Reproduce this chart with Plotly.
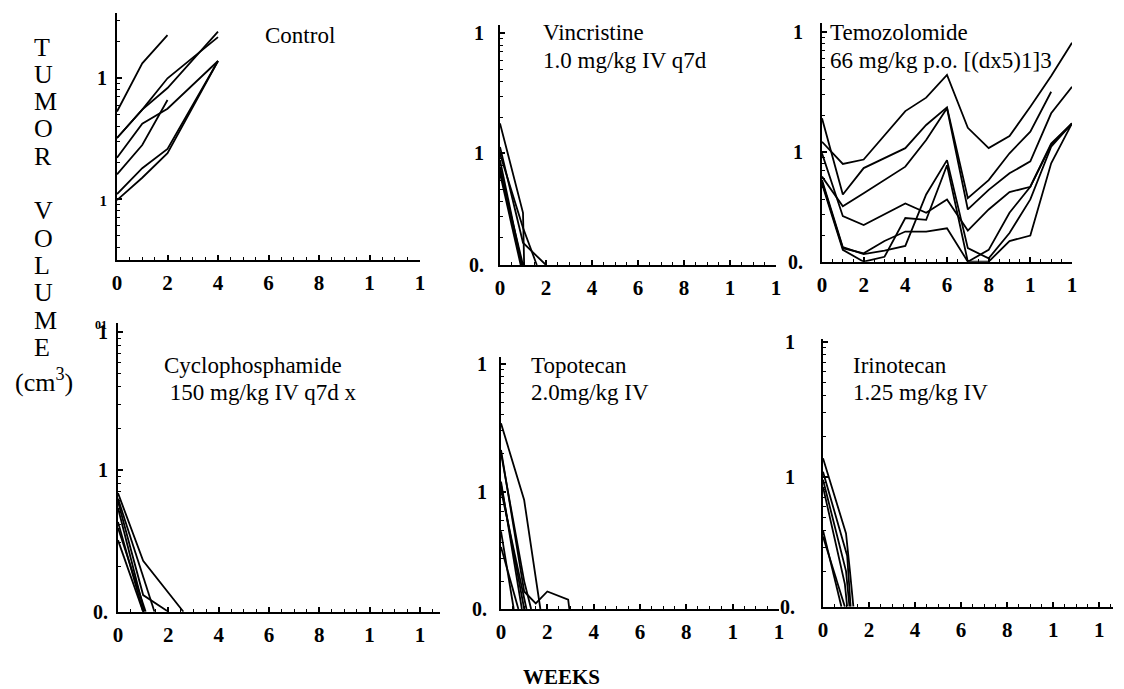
import math
import plotly.graph_objects as go

# The page body keeps an 8 px margin at the top/left, so the figure is placed with that offset.
PAGE_MARGIN = 8
W, H = 1124 - PAGE_MARGIN, 689 - PAGE_MARGIN

# ---------------- data (tumor volume, cm^3; 0 = no measurable tumor) ----------------
CONTROL_WEEKS = [[0, 1, 2], [0, 1, 2, 4], [0, 1, 2, 4], [0, 1, 2, 4], [0, 1, 2], [0, 1, 2, 4], [0, 1, 2, 4]]
CONTROL_VOL = [[0.53, 1.33, 2.28], [0.32, 0.55, 1.0, 2.19], [0.32, 0.55, 0.83, 2.43],
               [0.22, 0.42, 0.56, 1.39], [0.16, 0.28, 0.66], [0.11, 0.18, 0.26, 1.39],
               [0.098, 0.15, 0.24, 1.39]]

VINC_WEEKS = [[0, 1, 1.05], [0, 1, 2], [0, 1, 1.6], [0, 0.95], [0, 0.95], [0, 1.0], [0, 0.9]]
VINC_VOL = [[1.78, 0.32, 0], [1.13, 0.18, 0], [0.99, 0.24, 0], [0.88, 0], [0.77, 0], [0.73, 0], [0.68, 0]]

TEMO_WEEKS = [0, 1, 2, 3, 4, 5, 6, 7, 8, 9, 10, 11, 12]
TEMO_VOL = [
    [1.21, 0.79, 0.86, 1.38, 2.18, 2.82, 4.36, 1.58, 1.07, 1.35, 2.37, 4.27, 8.10],
    [1.90, 0.44, 0.73, 0.88, 1.07, 1.67, 2.34, 0.41, 0.58, 0.97, 1.47, 3.16],
    [0.62, 0.35, 0.45, 0.58, 0.75, 1.25, 2.30, 0.33, 0.48, 0.66, 0.83, 2.09, 3.48],
    [0.97, 0.29, 0.245, 0.30, 0.37, 0.31, 0.40, 0.22, 0.33, 0.46, 0.51, 1.14, 1.72],
    [0.58, 0.16, 0.14, 0.15, 0.164, 0.44, 0.85, 0.157, 0.129, 0.21, 0.40, 1.10, 1.72],
    [0.54, 0.152, 0, 0.133, 0.28, 0.27, 0.77, 0, 0.152, 0.31, 0.51, 1.17, 1.72],
    [0.56, 0.157, 0.142, 0.18, 0.216, 0.216, 0.23, 0, 0, 0.18, 0.20, 0.80, 1.72],
]

CYCLO_WEEKS = [[0, 1, 2.6], [0, 1, 2], [0, 1.45], [0, 1.05], [0, 1.0], [0, 1.1], [0, 1.0]]
CYCLO_VOL = [[0.68, 0.22, 0], [0.59, 0.124, 0], [0.62, 0], [0.53, 0], [0.42, 0], [0.38, 0], [0.31, 0]]

TOPO_WEEKS = [[0, 1, 1.7], [0, 1, 1.5, 2, 2.9, 2.95], [0, 1, 1.3], [0, 0.9], [0, 1.0], [0, 1.1], [0, 0.55], [0, 0.75]]
TOPO_VOL = [[3.42, 0.86, 0], [2.12, 0.166, 0.134, 0.166, 0.143, 0], [2.0, 0.2, 0], [1.2, 0],
            [1.13, 0], [1.03, 0], [0.49, 0], [0.37, 0]]

IRINO_WEEKS = [[0, 1, 1.17, 1.32], [0, 1.05, 1.2], [0, 1.0, 1.15], [0, 0.95, 1.05], [0, 0.8], [0, 0.95]]
IRINO_VOL = [[1.37, 0.38, 0.2, 0], [1.09, 0.26, 0], [0.95, 0.2, 0], [0.84, 0.16, 0], [0.40, 0], [0.36, 0]]

TITLES = [["Control"],
          ["Vincristine", "1.0 mg/kg IV q7d"],
          ["Temozolomide", "66 mg/kg p.o. [(dx5)1]3"],
          ["Cyclophosphamide", " 150 mg/kg IV q7d x"],
          ["Topotecan", "2.0mg/kg IV"],
          ["Irinotecan", "1.25 mg/kg IV"]]

X_TICKVALS = [0, 2, 4, 6, 8, 10, 12]
X_TICKTEXT = ["0", "2", "4", "6", "8", "1", "1"]
Y_LABEL = "TUMOR VOLUME"
X_LABEL = "WEEKS"

# ---------------- layout geometry (window pixels) ----------------
SERIF = "Liberation Serif"
PANELS = [
    dict(weeks=CONTROL_WEEKS, vol=CONTROL_VOL, xd=(117, 420), yd=(12.7, 260), xr=[0, 12], yr=[-1.505, 0.543],
         tv=[1, 0.1], tt=["1", "<span style='font-size:15px'>1</span>"], stand=4,
         title_xy=(263, 36)),
    dict(weeks=VINC_WEEKS, vol=VINC_VOL, xd=(500, 776), yd=(25, 265), xr=[0, 12], yr=[-0.93, 1.07],
         tv=[10, 1, "floor"], tt=["1", "1", "0."], stand=10, title_xy=(541, 33)),
    dict(weeks=[TEMO_WEEKS] * len(TEMO_VOL), vol=TEMO_VOL, xd=(822, 1072), yd=(22.7, 261.7), xr=[0, 12],
         yr=[-0.917, 1.075], tv=[10, 1, "floor"], tt=["1", "1", "0."], stand=13, title_xy=(828, 33)),
    dict(weeks=CYCLO_WEEKS, vol=CYCLO_VOL, xd=(118, 440), yd=(323.3, 611.7), xr=[0, 12.8], yr=[-1.027, 1.063],
         tv=[10, 1, "floor"], tt=["1", "1", "0."], stand=4, title_xy=(162, 365)),
    dict(weeks=TOPO_WEEKS, vol=TOPO_VOL, xd=(501, 779), yd=(356.7, 609), xr=[0, 12], yr=[-0.917, 1.055],
         tv=[10, 1, "floor"], tt=["1", "1", "0."], stand=8, title_xy=(529, 365)),
    dict(weeks=IRINO_WEEKS, vol=IRINO_VOL, xd=(823, 1113), yd=(339.3, 606.7), xr=[0, 12.6], yr=[-0.963, 1.018],
         tv=[10, 1, "floor"], tt=["1", "1", "0."], stand=22, title_xy=(851, 365)),
]


def fx(px):
    return (px - PAGE_MARGIN) / W


def fy(py):
    return 1 - (py - PAGE_MARGIN) / H


fig = go.Figure()
annotations = []
layout = dict(width=W, height=H, margin=dict(l=0, r=0, t=0, b=0, pad=0, autoexpand=False),
              paper_bgcolor="white", plot_bgcolor="white", showlegend=False)

for i, p in enumerate(PANELS):
    n = "" if i == 0 else str(i + 1)
    floor = 10 ** p["yr"][0]
    for wk, vals in zip(p["weeks"], p["vol"]):
        wk = wk[:len(vals)]
        yv = [v if v > 0 else floor for v in vals]
        fig.add_trace(go.Scatter(x=wk, y=yv, mode="lines", line=dict(color="black", width=1.8),
                                 xaxis="x" + n, yaxis="y" + n, hoverinfo="skip"))
    lo, hi = p["yr"]
    minor_vals = [k * 10 ** d for d in (-2, -1, 0, 1) for k in range(2, 10)
                  if lo <= d + math.log10(k) <= hi]
    tickvals = [floor * 1.003 if t == "floor" else t for t in p["tv"]]
    layout["xaxis" + n] = dict(
        domain=[fx(p["xd"][0]), fx(p["xd"][1])], range=p["xr"], anchor="y" + n,
        showline=True, linecolor="black", linewidth=2, showgrid=False, zeroline=False,
        ticks="inside", ticklen=5, tickwidth=1.5, tickcolor="black",
        tickmode="array", tickvals=X_TICKVALS, ticktext=X_TICKTEXT, ticklabelstandoff=3,
        tickfont=dict(family=SERIF, size=21, color="black", weight="bold"),
        minor=dict(ticks="inside", ticklen=3, tickwidth=1.3, tickcolor="black", dtick=0.5, tick0=0,
                   showgrid=False),
        fixedrange=True)
    layout["yaxis" + n] = dict(
        domain=[fy(p["yd"][1]), fy(p["yd"][0])], type="log", range=p["yr"], anchor="x" + n,
        showline=True, linecolor="black", linewidth=2, showgrid=False, zeroline=False,
        ticks="inside", ticklen=5, tickwidth=1.5, tickcolor="black",
        tickmode="array", tickvals=tickvals, ticktext=p["tt"], ticklabelstandoff=p["stand"],
        tickfont=dict(family=SERIF, size=20, color="black", weight="bold"),
        minor=dict(ticks="inside", ticklen=3, tickwidth=1.3, tickcolor="black",
                   tickmode="array", tickvals=minor_vals, showgrid=False),
        fixedrange=True)
    # panel titles
    tx, ty = p["title_xy"]
    for j, line in enumerate(TITLES[i]):
        annotations.append(dict(text=line, xref="paper", yref="paper", x=fx(tx), y=fy(ty + 28 * j),
                                xanchor="left", yanchor="middle", showarrow=False,
                                font=dict(family=SERIF, size=23, color="black")))

# odd overlapped superscript on the cyclophosphamide axis
annotations.append(dict(text="01", xref="paper", yref="paper", x=fx(101), y=fy(325),
                        xanchor="center", yanchor="middle", showarrow=False,
                        font=dict(family=SERIF, size=12, color="black", weight="bold")))

# vertical y label, one letter per line
for k, ch in enumerate(Y_LABEL):
    if ch == " ":
        continue
    annotations.append(dict(text=ch, xref="paper", yref="paper", x=fx(32), y=fy(47 + 27.3 * k),
                            xanchor="left", yanchor="middle", showarrow=False,
                            font=dict(family=SERIF, size=26, color="black")))
annotations.append(dict(text="(cm<sup>3</sup>)", xref="paper", yref="paper", x=fx(44), y=fy(380),
                        xanchor="center", yanchor="middle", showarrow=False,
                        font=dict(family=SERIF, size=26, color="black")))
annotations.append(dict(text=X_LABEL, xref="paper", yref="paper", x=fx(561), y=fy(677),
                        xanchor="center", yanchor="middle", showarrow=False,
                        font=dict(family=SERIF, size=21, color="black", weight="bold")))

layout["annotations"] = annotations
fig.update_layout(**layout)
fig.write_html("out.html")
